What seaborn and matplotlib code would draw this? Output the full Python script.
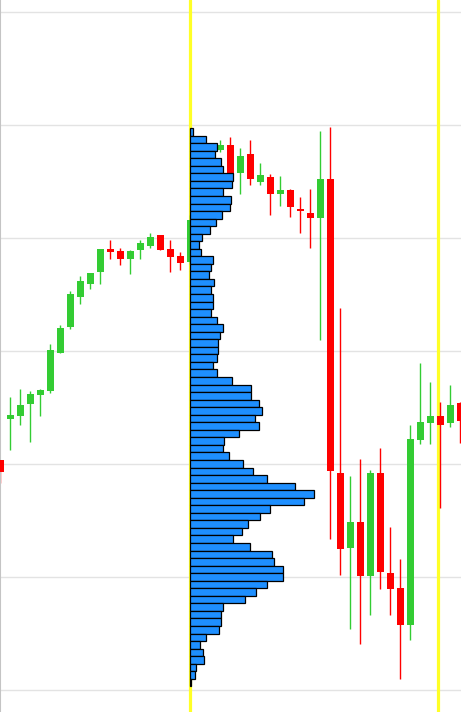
import numpy as np
import pandas as pd
import matplotlib
matplotlib.use("Agg")
import matplotlib.pyplot as plt
import seaborn as sns

# ---------------- data ----------------
candle_index = list(range(47))
opens = [30.35, 34.01, 34.27, 35.31, 36.11, 36.46, 39.85, 42.15, 44.78, 45.93,
         47.02, 49.03, 48.85, 48.17, 48.94, 49.32, 50.27, 49.03, 48.41, 47.88,
         51.59, 54.69, 57.83, 58.23, 55.73, 57.43, 54.98, 55.40, 53.87, 54.25,
         52.57, 52.21, 51.80, 55.22, 29.20, 22.59, 24.87, 20.12, 29.20, 20.35,
         19.03, 15.78, 32.12, 33.65, 34.25, 33.65, 35.40]
highs = [30.35, 35.90, 36.64, 36.46, 36.64, 40.62, 42.30, 45.31, 46.64, 46.90,
         49.03, 49.82, 49.11, 48.94, 49.82, 50.44, 50.27, 49.82, 48.76, 52.00,
         55.13, 58.23, 58.67, 58.94, 57.96, 58.67, 56.64, 55.66, 55.49, 54.34,
         53.63, 54.34, 59.47, 59.85, 43.80, 28.94, 30.44, 29.47, 31.42, 24.42,
         21.59, 33.45, 38.94, 37.26, 35.49, 36.99, 35.49]
lows = [28.35, 31.24, 33.45, 31.97, 34.25, 36.31, 39.85, 41.97, 44.16, 45.49,
        45.93, 48.17, 47.64, 46.84, 48.17, 49.11, 48.97, 47.02, 47.20, 47.70,
        51.24, 54.25, 57.61, 55.58, 53.89, 54.66, 54.66, 52.01, 52.86, 51.83,
        50.47, 49.14, 41.00, 23.34, 20.15, 15.42, 14.10, 16.66, 18.97, 16.66,
        10.95, 14.45, 31.77, 31.77, 26.11, 33.30, 31.86]
closes = [29.32, 34.34, 35.22, 36.19, 36.58, 40.09, 42.04, 45.04, 46.19, 46.90,
          49.03, 48.79, 48.17, 48.85, 49.56, 50.09, 48.97, 48.35, 47.81, 51.59,
          54.69, 57.79, 58.23, 55.58, 57.26, 55.19, 55.58, 53.87, 54.25, 52.72,
          52.36, 51.80, 55.22, 29.34, 22.50, 24.87, 20.12, 29.20, 20.47, 18.97,
          15.78, 32.21, 33.72, 34.25, 33.45, 35.22, 33.80]

# volume profile (top bin first)
profile_volume = [30, 164, 274, 250, 310, 330, 430, 420, 330, 410,
                  400, 320, 260, 200, 120, 90, 110, 230, 210, 190,
                  240, 210, 230, 230, 210, 270, 330, 300, 280, 280,
                  270, 230, 270, 420, 610, 610, 690, 720, 650, 690,
                  490, 340, 330, 390, 530, 630, 770, 1050, 1240, 1140,
                  800, 700, 580, 520, 430, 600, 820, 840, 930, 930,
                  770, 660, 550, 330, 310, 310, 290, 160, 100, 130,
                  140, 60, 50, 10]
profile_top_price = 59.73
profile_bin = 0.6677

session_lines = [19.0, 43.8]
grid_levels = [10, 20, 30, 40, 50, 60, 70]

df = pd.DataFrame({"i": candle_index, "open": opens, "high": highs,
                   "low": lows, "close": closes})
df["up"] = df["close"] >= df["open"]

# ---------------- style ----------------
sns.set_style("white")
GREEN = "#33cc33"
RED = "#ff0000"
BLUE = "#1e8fff"
YELLOW = "#ffff26"

fig = plt.figure(figsize=(4.61, 7.12), dpi=100)
ax = fig.add_axes([0, 0, 1, 1])
ax.set_xlim(0, 46.1)
ax.set_ylim(8.053, 71.062)

# grid
for g in grid_levels:
    ax.axhline(g, color="#e3e3e3", lw=1.0, zorder=0)

# session lines
for s in session_lines:
    ax.axvline(s, color=YELLOW, lw=2.3, zorder=1)

# candles
colors = np.where(df["up"], GREEN, RED)
ax.vlines(df["i"], df["low"], df["high"], colors=colors, lw=1.0, zorder=2)
body_bottom = np.minimum(df["open"], df["close"])
body_height = np.abs(df["close"] - df["open"])
body_height = np.maximum(body_height, 0.12)
ax.bar(df["i"], body_height, bottom=body_bottom, width=0.7, color=colors,
       linewidth=0, zorder=3)

# volume profile
vol = np.array(profile_volume, dtype=float)
n = len(vol)
centers = profile_top_price - profile_bin * (np.arange(n) + 0.5)
max_width = 12.4
widths = vol / vol.max() * max_width
ax.barh(centers, widths, height=profile_bin, left=session_lines[0],
        color=BLUE, edgecolor="black", linewidth=0.9, zorder=4)

# axes cosmetics
ax.set_xticks([])
ax.set_yticks([])
for side in ["top", "right", "bottom"]:
    ax.spines[side].set_visible(False)
ax.spines["left"].set_visible(True)
ax.spines["left"].set_color("#c4c4c4")
ax.spines["left"].set_linewidth(1.5)

fig.savefig("out.png", dpi=100)
